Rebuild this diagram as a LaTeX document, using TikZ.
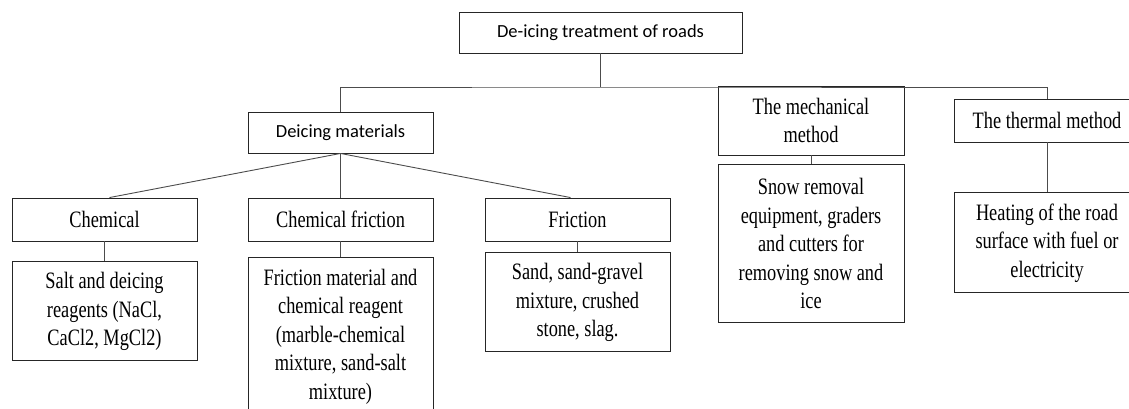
\documentclass[tikz,border=0pt]{standalone}
\usepackage{fontspec}
\setmainfont{Liberation Serif}[FakeStretch=0.78]
\newfontfamily\headfont{Carlito}
\usetikzlibrary{positioning}
\tikzstyle{head} = [rectangle, draw=black!85, line width=0.9pt, text centered, font={\headfont\fontsize{18.5}{22}\selectfont}, minimum width=185pt, minimum height=41pt, inner sep=0pt]
\tikzstyle{kind} = [rectangle, draw=black!85, line width=0.9pt, align=center, font={\fontsize{23.5}{28.5}\selectfont}, minimum width=185pt, minimum height=43pt, inner sep=0pt]
\tikzstyle{detail} = [kind, minimum height=99pt]
\tikzstyle{line} = [line width=0.9pt, draw=black!70]

\begin{document}
\begin{tikzpicture}[x=1pt, y=-1pt]
        \clip (0,0) rectangle (1129,409);
        % Top
        \node (root) [head, minimum width=283pt] at (600.5,32.5) {De-icing treatment of roads};
        \coordinate (hub) at (600.5,87);

        % Methods
        \node (mat) [head] at (340.5,132.5) {Deicing materials};
        \node (mech) [kind, minimum width=186pt, minimum height=69pt] at (811,120.5) {The mechanical\\method};
        \node (therm) [kind, minimum width=186pt] at (1047,120.5) {The thermal method};

        % Materials
        \node (chem) [kind] at (104.5,219.5) {Chemical};
        \node (chemf) [kind] at (340.5,219.5) {Chemical friction};
        \node (fric) [kind] at (577.5,219.5) {Friction};

        % Details
        \node (chemd) [detail, below=20pt of chem] {Salt and deicing\\reagents (NaCl,\\CaCl2, MgCl2)};
        \node (chemfd) [detail, below=16pt of chemf, minimum height=157pt] {Friction material and\\chemical reagent\\(marble-chemical\\mixture, sand-salt\\mixture)};
        \node (fricd) [detail, below=11pt of fric] {Sand, sand-gravel\\mixture, crushed\\stone, slag.};
        \node (mechd) [detail, below=9pt of mech, minimum width=186pt, minimum height=158pt] {Snow removal\\equipment, graders\\and cutters for\\removing snow and\\ice};
        \node (heat) [detail, below=50pt of therm, minimum width=186pt, minimum height=100pt] {Heating of the road\\surface with fuel or\\electricity};

        % Connections
        \draw [line] (root.south) -- (hub);
        \draw [line] (mat.north) |- (hub) -| (therm.north);

        \draw [line] (mat.south) -- ([xshift=5pt]chem.north);
        \draw [line] (mat.south) -- (chemf.north);
        \draw [line] (mat.south) -- ([xshift=-7pt]fric.north);

        \draw [line] (chem.south) -- (chemd.north);
        \draw [line] (chemf.south) -- (chemfd.north);
        \draw [line] (fric.south) -- (fricd.north);
        \draw [line] (mech.south) -- (mechd.north);
        \draw [line] (therm.south) -- (heat.north);
    \end{tikzpicture}
\end{document}
